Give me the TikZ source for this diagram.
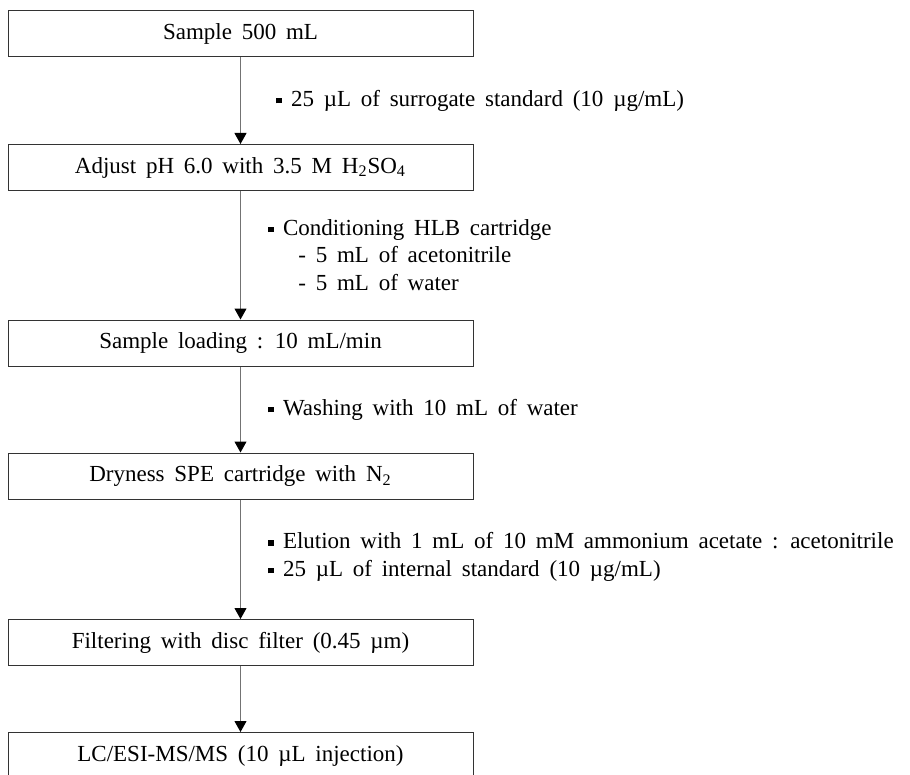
\documentclass[tikz,border=0pt]{standalone}
\usepackage{fontspec}
\setmainfont{Liberation Serif}[WordSpace=1.7]
\usepackage{tikz}
\usetikzlibrary{arrows.meta}
\newcommand{\pxunit}{0.5pt}
\newcommand{\sqbul}{\raisebox{0.3ex}{\rule{2.8pt}{2.8pt}}\hspace{4.5pt}}

\begin{document}
\begin{tikzpicture}
\useasboundingbox (0,0) rectangle (910*\pxunit,-775*\pxunit);
\tikzstyle{every node}=[font=\fontsize{11.5}{13.8}\selectfont,
			inner sep=0pt
			]
\tikzstyle{stepbox}=[draw=black!80,
			line width=0.5pt,
			minimum width=465*\pxunit,
			minimum height=46*\pxunit
			]
\tikzstyle{note}=[anchor=west, align=left]
\tikzstyle{flow}=[draw=black!55, line width=0.5pt, -{Triangle[width=6pt,length=5.5pt,color=black]}]


\node[stepbox] (sample) at (240.5*\pxunit,-34*\pxunit) {Sample 500 mL};
        

\node[stepbox] (adjust) at (240.5*\pxunit,-167.5*\pxunit) {Adjust pH 6.0 with 3.5 M H\textsubscript{2}SO\textsubscript{4}};
        

\node[stepbox] (loading) at (240.5*\pxunit,-343*\pxunit) {Sample loading : 10 mL/min};
        

\node[stepbox] (dryness) at (240.5*\pxunit,-476*\pxunit) {Dryness SPE cartridge with N\textsubscript{2}};
        

\node[stepbox] (filtering) at (240.5*\pxunit,-642.5*\pxunit) {Filtering with disc filter (0.45 µm)};
        

\node[stepbox] (lcms) at (240.5*\pxunit,-755.5*\pxunit) {LC/ESI-MS/MS (10 µL injection)};
        

\draw[flow] (sample) -- (adjust);
    

\draw[flow] (adjust) -- (loading);
    

\draw[flow] (loading) -- (dryness);
    

\draw[flow] (dryness) -- (filtering);
    

\draw[flow] (filtering) -- (lcms);
    

\node[note] (surrogate) at (276*\pxunit,-101*\pxunit) {\sqbul 25 µL of surrogate standard (10 µg/mL)};
            

\node[note] (conditioning) at (268*\pxunit,-255*\pxunit) {\sqbul Conditioning HLB cartridge\\
\hspace*{15pt}- 5 mL of acetonitrile\\
\hspace*{15pt}- 5 mL of water};
            

\node[note] (washing) at (268*\pxunit,-410*\pxunit) {\sqbul Washing with 10 mL of water};
            

\node[note] (elution) at (268*\pxunit,-557*\pxunit) {\sqbul Elution with 1 mL of 10 mM ammonium acetate : acetonitrile\\
\sqbul 25 µL of internal standard (10 µg/mL)};
            

\end{tikzpicture}
\end{document}
